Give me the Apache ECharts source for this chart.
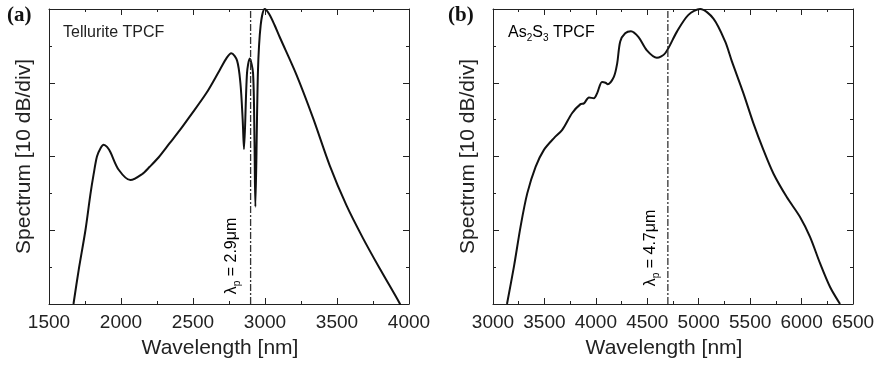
<!DOCTYPE html>
<html><head><meta charset="utf-8">
<script src="https://cdn.jsdelivr.net/npm/echarts@6/dist/echarts.min.js"></script>
<style>html,body{margin:0;padding:0;background:#fff}#c{width:880px;height:368px}</style>
</head><body><div id="c"></div>
<script>
// Panel (a): Tellurite TPCF
const tellWl = [1670, 1706, 1753, 1787, 1810, 1833, 1857, 1880, 1903, 1926, 1984, 2065, 2146, 2199, 2262, 2338, 2410, 2477, 2593, 2685, 2735, 2766, 2806, 2829, 2845, 2854, 2875, 2894, 2917, 2927, 2933, 2951, 2970, 2998, 3030, 3067, 3102, 3218, 3334, 3449, 3565, 3681, 3797, 3935, 3947];
const tellDb = [0, 4.6, 10.0, 14.8, 17.6, 20.0, 21.1, 21.6, 21.3, 20.6, 18.2, 16.8, 17.6, 18.6, 19.9, 21.8, 23.6, 25.4, 28.6, 31.7, 33.4, 34.0, 33.0, 30.0, 25.0, 21.0, 31.3, 33.3, 31.3, 22.0, 13.2, 31.5, 37.8, 40.0, 39.3, 37.8, 36.2, 31.1, 25.2, 18.8, 13.4, 8.9, 4.8, 0.1, -0.5];
// Panel (b): As2S3 TPCF
const asWl = [3136, 3204, 3268, 3333, 3414, 3495, 3593, 3673, 3770, 3851, 3884, 3933, 3981, 4013, 4060, 4094, 4115, 4175, 4207, 4237, 4285, 4341, 4415, 4496, 4593, 4674, 4787, 4900, 5014, 5143, 5257, 5320, 5434, 5532, 5629, 5726, 5856, 5985, 6082, 6180, 6277, 6374];
const asDb = [0, 5.1, 10.5, 15.0, 18.6, 20.9, 22.5, 23.6, 25.9, 27.1, 27.2, 28.0, 27.9, 28.6, 30.1, 30.0, 29.8, 30.8, 32.6, 35.6, 36.7, 37.0, 36.2, 34.4, 33.4, 34.0, 36.9, 39.2, 40.0, 38.7, 35.6, 33.0, 28.6, 24.5, 20.9, 17.7, 14.5, 11.8, 9.1, 5.5, 2.3, 0];
// pump wavelengths (nm)
const pumpA = 2900, pumpB = 4700;
// tick labels
const xTicksA = [1500, 2000, 2500, 3000, 3500, 4000];
const xTicksB = [3000, 3500, 4000, 4500, 5000, 5500, 6000, 6500];
const yTicks = [0, 10, 20, 30, 40];

const FONT = '"Liberation Sans", Arial, Helvetica, sans-serif';
const INK = '#222';

function xAx(grid, ticks, pos) {
  const bottom = pos === 'bottom';
  return {
    type: 'value', gridIndex: grid, position: pos,
    min: ticks[0], max: ticks[ticks.length - 1], interval: ticks[1] - ticks[0],
    name: bottom ? 'Wavelength [nm]' : '', nameLocation: 'middle', nameGap: 34,
    nameTextStyle: { fontFamily: FONT, fontSize: 21, color: INK, padding: [0, 18, 0, 0] },
    axisLine: { show: true, onZero: false, lineStyle: { color: INK, width: 1 } },
    axisTick: { show: true, inside: true, length: 6, lineStyle: { color: INK, width: 1 } },
    minorTick: { show: true, splitNumber: 2, length: 3, lineStyle: { color: INK, width: 1 } },
    splitLine: { show: false }, minorSplitLine: { show: false },
    axisLabel: { show: bottom, fontFamily: FONT, fontSize: 19, color: INK, margin: 9, formatter: v => String(v) }
  };
}
function yAx(grid, pos) {
  const left = pos === 'left';
  return {
    type: 'value', gridIndex: grid, position: pos,
    min: yTicks[0], max: yTicks[yTicks.length - 1], interval: yTicks[1] - yTicks[0],
    name: left ? 'Spectrum [10 dB/div]' : '', nameLocation: 'middle', nameGap: 14,
    nameTextStyle: { fontFamily: FONT, fontSize: 21, color: INK },
    axisLine: { show: true, onZero: false, lineStyle: { color: INK, width: 1 } },
    axisTick: { show: true, inside: true, length: 6, lineStyle: { color: INK, width: 1 } },
    minorTick: { show: true, splitNumber: 2, length: 3, lineStyle: { color: INK, width: 1 } },
    splitLine: { show: false }, minorSplitLine: { show: false },
    axisLabel: { show: false }
  };
}

const pairs = (xs, ys) => xs.map((x, i) => [x, ys[i]]);
const curve = (xi, data) => ({
  type: 'line', xAxisIndex: xi, yAxisIndex: xi, data, showSymbol: false, smooth: 0.3,
  lineStyle: { color: '#111', width: 2 }, silent: true, animation: false
});
const pump = (xi, wl) => ({
  type: 'line', xAxisIndex: xi, yAxisIndex: xi, data: [[wl, yTicks[0]], [wl, yTicks[yTicks.length - 1]]],
  showSymbol: false, lineStyle: { color: '#333', width: 1.3, type: [7, 2, 2, 2] }, silent: true, animation: false
});

const lamRich = {
  l: { fontFamily: FONT, fontSize: 16, color: INK, lineHeight: 20, verticalAlign: 'middle' },
  s: { fontFamily: FONT, fontSize: 10, color: INK, lineHeight: 20, verticalAlign: 'bottom' }
};
const subRich = {
  m: { fontFamily: FONT, fontSize: 16, color: INK, lineHeight: 20, verticalAlign: 'middle' },
  s: { fontFamily: FONT, fontSize: 10, color: INK, lineHeight: 20, verticalAlign: 'bottom' }
};

const chart = echarts.init(document.getElementById('c'), null, { renderer: 'canvas' });
chart.setOption({
  backgroundColor: '#fff',
  animation: false,
  grid: [
    { left: 49, top: 9, width: 360, height: 295 },
    { left: 493, top: 9, width: 360, height: 295 }
  ],
  xAxis: [xAx(0, xTicksA, 'bottom'), xAx(1, xTicksB, 'bottom'), xAx(0, xTicksA, 'top'), xAx(1, xTicksB, 'top')],
  yAxis: [yAx(0, 'left'), yAx(1, 'left'), yAx(0, 'right'), yAx(1, 'right')],
  series: [
    curve(0, pairs(tellWl, tellDb)),
    curve(1, pairs(asWl, asDb)),
    pump(0, pumpA),
    pump(1, pumpB)
  ],
  graphic: [
    { type: 'text', left: 7, top: 5, style: { text: '(a)', font: 'bold 21px "Liberation Serif", "Times New Roman", serif', fill: '#111' } },
    { type: 'text', left: 448, top: 5, style: { text: '(b)', font: 'bold 21px "Liberation Serif", "Times New Roman", serif', fill: '#111' } },
    { type: 'text', x: 63, y: 33, style: { text: 'Tellurite TPCF', font: '16px ' + FONT, fill: INK, verticalAlign: 'middle' } },
    { type: 'text', x: 508, y: 33, style: { text: '{m|As}{s|2}{m|S}{s|3}{m| TPCF}', rich: subRich, verticalAlign: 'middle' } },
    { type: 'text', x: 232, y: 256, rotation: Math.PI / 2, style: { text: '{l|λ}{s|p}{l| = 2.9μm}', rich: lamRich, align: 'center', verticalAlign: 'middle' } },
    { type: 'text', x: 651, y: 248, rotation: Math.PI / 2, style: { text: '{l|λ}{s|p}{l| = 4.7μm}', rich: lamRich, align: 'center', verticalAlign: 'middle' } }
  ]
});
</script>
</body></html>
